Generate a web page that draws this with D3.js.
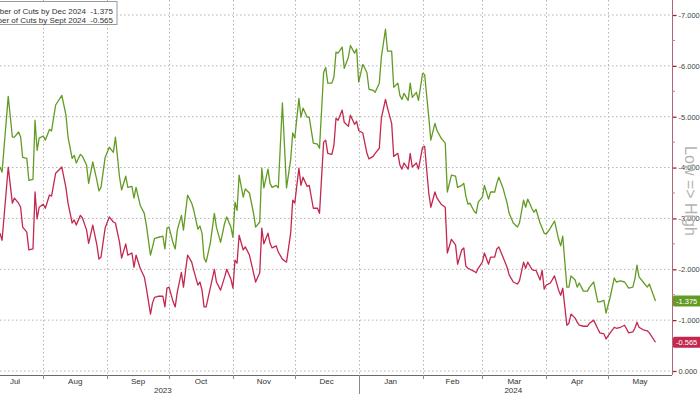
<!DOCTYPE html>
<html>
<head>
<meta charset="utf-8">
<title>Number of cuts priced</title>
<script src="https://cdnjs.cloudflare.com/ajax/libs/d3/7.8.5/d3.min.js"></script>
<style>
  body { margin: 0; background: #fff; }
  svg { display: block; font-family: "Liberation Sans", Arial, sans-serif; }
</style>
</head>
<body>
<svg id="chart" width="700" height="394"></svg>
<script>
// observation dates (both series share them)
var dates = [
  "2023-07-11","2023-07-12","2023-07-15","2023-07-17","2023-07-18","2023-07-20","2023-07-21","2023-07-22","2023-07-24","2023-07-25",
  "2023-07-27","2023-07-28","2023-07-29","2023-07-30","2023-08-01","2023-08-02","2023-08-04","2023-08-05","2023-08-07","2023-08-10",
  "2023-08-12","2023-08-13","2023-08-15","2023-08-16","2023-08-17","2023-08-19","2023-08-20","2023-08-22","2023-08-23","2023-08-25",
  "2023-08-27","2023-08-28","2023-08-29","2023-08-31","2023-09-02","2023-09-04","2023-09-05","2023-09-07","2023-09-08","2023-09-10",
  "2023-09-11","2023-09-13","2023-09-14","2023-09-15","2023-09-17","2023-09-19","2023-09-20","2023-09-22","2023-09-23","2023-09-24",
  "2023-09-26","2023-09-28","2023-09-29","2023-09-30","2023-10-01","2023-10-03","2023-10-04","2023-10-05","2023-10-07","2023-10-08",
  "2023-10-10","2023-10-12","2023-10-13","2023-10-15","2023-10-16","2023-10-17","2023-10-18","2023-10-19","2023-10-21","2023-10-23",
  "2023-10-24","2023-10-26","2023-10-28","2023-10-29","2023-10-31","2023-11-01","2023-11-02","2023-11-03","2023-11-04","2023-11-06",
  "2023-11-07","2023-11-09","2023-11-11","2023-11-12","2023-11-14","2023-11-15","2023-11-16","2023-11-18","2023-11-19","2023-11-20",
  "2023-11-22","2023-11-23","2023-11-25","2023-11-27","2023-11-29","2023-11-30","2023-12-01","2023-12-03","2023-12-04","2023-12-05",
  "2023-12-07","2023-12-08","2023-12-10","2023-12-12","2023-12-13","2023-12-15","2023-12-16","2023-12-17","2023-12-19","2023-12-20",
  "2023-12-21","2023-12-22","2023-12-24","2023-12-25","2023-12-27","2023-12-28","2023-12-30","2023-12-31","2024-01-01","2024-01-03",
  "2024-01-05","2024-01-06","2024-01-08","2024-01-09","2024-01-11","2024-01-12","2024-01-14","2024-01-15","2024-01-17","2024-01-18",
  "2024-01-20","2024-01-21","2024-01-22","2024-01-23","2024-01-25","2024-01-26","2024-01-27","2024-01-29","2024-01-30","2024-02-01",
  "2024-02-02","2024-02-04","2024-02-05","2024-02-07","2024-02-08","2024-02-10","2024-02-12","2024-02-13","2024-02-15","2024-02-17",
  "2024-02-18","2024-02-20","2024-02-21","2024-02-22","2024-02-23","2024-02-24","2024-02-26","2024-02-27","2024-02-28","2024-03-01",
  "2024-03-02","2024-03-04","2024-03-05","2024-03-07","2024-03-08","2024-03-09","2024-03-11","2024-03-13","2024-03-14","2024-03-16",
  "2024-03-18","2024-03-19","2024-03-21","2024-03-22","2024-03-23","2024-03-25","2024-03-26","2024-03-27","2024-03-29","2024-03-30",
  "2024-03-31","2024-04-01","2024-04-03","2024-04-05","2024-04-07","2024-04-08","2024-04-09","2024-04-11","2024-04-12","2024-04-13",
  "2024-04-15","2024-04-16","2024-04-17","2024-04-19","2024-04-21","2024-04-22","2024-04-24","2024-04-26","2024-04-27","2024-04-29",
  "2024-04-30","2024-05-02","2024-05-04","2024-05-05","2024-05-07","2024-05-09","2024-05-11","2024-05-13","2024-05-14","2024-05-15",
  "2024-05-16","2024-05-18","2024-05-20","2024-05-21","2024-05-24"
];

// Number of Cuts by Dec 2024
var cutsDec2024 = [
  -4.01,-3.91,-5.40,-4.60,-4.60,-4.70,-4.60,-4.20,-4.18,-3.75,
  -3.77,-4.93,-4.34,-4.58,-4.62,-4.54,-4.75,-4.72,-5.23,-5.42,
  -5.03,-4.60,-4.18,-4.24,-4.09,-4.26,-4.22,-4.05,-3.69,-4.11,
  -3.75,-3.54,-3.61,-4.20,-4.40,-4.30,-4.60,-3.81,-3.56,-3.83,
  -3.61,-3.63,-3.40,-3.61,-3.26,-3.10,-2.87,-2.28,-2.44,-2.61,
  -2.63,-2.65,-2.40,-2.81,-2.83,-2.51,-2.40,-2.77,-3.06,-2.77,
  -3.46,-3.30,-3.16,-2.79,-2.85,-2.71,-2.22,-2.14,-2.51,-3.10,
  -2.83,-2.53,-2.91,-3.03,-2.83,-2.63,-3.32,-3.16,-3.85,-3.42,
  -3.58,-3.50,-3.10,-2.83,-2.93,-3.99,-3.60,-3.97,-3.69,-3.61,
  -3.65,-3.60,-5.27,-3.60,-4.15,-4.68,-4.58,-5.36,-4.99,-5.17,
  -4.99,-4.99,-4.48,-4.46,-4.38,-5.87,-5.97,-5.66,-5.66,-5.78,
  -6.27,-6.25,-6.37,-5.95,-6.17,-6.40,-6.25,-6.33,-5.68,-6.03,
  -5.87,-5.54,-5.52,-5.48,-5.66,-6.17,-6.72,-6.29,-6.29,-5.58,
  -5.66,-5.42,-5.34,-5.46,-5.32,-5.66,-5.38,-5.48,-5.32,-5.85,
  -5.83,-4.99,-4.54,-4.87,-4.73,-4.58,-4.48,-3.52,-3.85,-3.83,
  -3.61,-3.65,-3.69,-3.44,-3.28,-3.30,-3.14,-3.10,-3.32,-3.42,
  -3.65,-3.38,-3.52,-3.52,-3.69,-3.81,-3.60,-3.30,-3.10,-2.91,
  -2.83,-2.91,-3.36,-3.22,-3.38,-3.20,-3.12,-3.18,-2.91,-2.81,
  -2.71,-2.69,-2.81,-2.95,-2.59,-2.46,-2.65,-1.65,-1.65,-1.87,
  -1.79,-1.65,-1.73,-1.57,-1.57,-1.65,-1.75,-1.36,-1.36,-1.39,
  -1.14,-1.45,-1.83,-1.75,-1.77,-1.75,-1.63,-1.65,-1.81,-2.08,
  -1.85,-1.75,-1.65,-1.71,-1.375
];

// Number of Cuts by Sept 2024
var cutsSep2024 = [
  -2.71,-2.57,-4.01,-3.30,-3.40,-3.30,-3.22,-2.83,-2.73,-2.38,
  -2.40,-3.52,-2.99,-3.22,-3.28,-3.20,-3.46,-3.44,-3.89,-4.01,
  -3.60,-3.30,-2.91,-2.97,-2.87,-3.06,-3.01,-2.77,-2.51,-2.87,
  -2.48,-2.20,-2.24,-2.81,-3.03,-2.93,-2.91,-2.53,-2.22,-2.50,
  -2.28,-2.32,-2.04,-2.28,-2.02,-1.85,-1.63,-1.12,-1.34,-1.45,
  -1.47,-1.47,-1.26,-1.63,-1.65,-1.36,-1.26,-1.55,-1.94,-1.65,
  -2.28,-2.14,-1.98,-1.69,-1.75,-1.59,-1.26,-1.26,-1.63,-2.00,
  -1.75,-1.59,-1.85,-2.00,-1.81,-1.63,-2.18,-2.12,-2.67,-2.38,
  -2.44,-2.28,-1.93,-1.75,-1.93,-2.81,-2.50,-2.71,-2.51,-2.42,
  -2.46,-2.34,-2.20,-2.14,-2.71,-3.36,-3.30,-3.99,-3.65,-3.81,
  -3.63,-3.65,-3.20,-3.20,-3.10,-4.50,-4.54,-4.28,-4.26,-4.44,
  -4.97,-4.93,-5.13,-4.89,-4.81,-5.03,-4.85,-4.91,-4.73,-4.68,
  -4.28,-4.17,-4.22,-4.28,-4.38,-4.97,-5.34,-5.17,-4.87,-4.22,
  -4.28,-4.05,-3.97,-4.09,-3.97,-4.28,-4.01,-4.09,-3.97,-4.40,
  -4.42,-3.50,-3.22,-3.52,-3.40,-3.28,-3.22,-2.32,-2.59,-2.48,
  -2.10,-2.38,-2.42,-2.06,-2.02,-2.00,-1.96,-1.93,-2.02,-2.14,
  -2.32,-2.10,-2.24,-2.24,-2.40,-2.44,-2.24,-2.04,-1.89,-1.75,
  -1.71,-1.77,-2.14,-2.02,-2.14,-2.00,-1.98,-1.98,-1.79,-1.98,
  -1.61,-1.69,-1.73,-1.87,-1.59,-1.49,-1.63,-0.90,-0.94,-1.12,
  -1.04,-0.96,-0.90,-0.88,-0.88,-0.94,-1.00,-0.83,-0.75,-0.73,
  -0.63,-0.75,-0.86,-0.84,-0.86,-0.90,-0.75,-0.77,-0.84,-0.96,
  -0.86,-0.81,-0.79,-0.75,-0.565
];

var seriesNames = ["Number of Cuts by Dec 2024", "Number of Cuts by Sept 2024"];
var yTicks = [0, -1, -2, -3, -4, -5, -6, -7];
var monthLabels = ["Jul", "Aug", "Sep", "Oct", "Nov", "Dec", "Jan", "Feb", "Mar", "Apr", "May"];
var yearLabels = [["2023", "2023-09-28"], ["2024", "2024-03-16"]];

var green = "#639b25", red = "#c3284f";
var parse = d3.timeParse("%Y-%m-%d");
var svg = d3.select("#chart");

var plotRight = 672, plotBottom = 375;

var x = d3.scaleTime()
    .domain([new Date(2023, 6, 11), new Date(2024, 5, 1)])
    .range([0, plotRight]);

var y = d3.scaleLinear()
    .domain([0, -7])
    .range([371, 15]);

var fmt = function (d) { return d === 0 ? "0.000" : "-" + Math.abs(d).toFixed(3); };

var months = d3.timeMonth.range(new Date(2023, 7, 1), new Date(2024, 5, 1));

// dotted grid
svg.append("g").selectAll("line")
    .data(yTicks).enter().append("line")
    .attr("x1", 0).attr("x2", plotRight)
    .attr("y1", d => y(d)).attr("y2", d => y(d))
    .attr("stroke", "#b4b4b4").attr("stroke-width", 1)
    .attr("stroke-dasharray", "1.5,2.5");

svg.append("g").selectAll("line")
    .data(months).enter().append("line")
    .attr("x1", d => Math.round(x(d)) + 0.5).attr("x2", d => Math.round(x(d)) + 0.5)
    .attr("y1", 0).attr("y2", plotBottom)
    .attr("stroke", "#b4b4b4").attr("stroke-width", 1)
    .attr("stroke-dasharray", "1.5,2.5");

// bottom axis
svg.append("line")
    .attr("x1", 0).attr("x2", plotRight)
    .attr("y1", plotBottom + 0.5).attr("y2", plotBottom + 0.5)
    .attr("stroke", "#6a6a6a");

svg.append("g").selectAll("line")
    .data(months).enter().append("line")
    .attr("x1", d => Math.round(x(d)) + 0.5).attr("x2", d => Math.round(x(d)) + 0.5)
    .attr("y1", plotBottom)
    .attr("y2", d => d.getMonth() === 0 ? 394 : plotBottom + 4)
    .attr("stroke", "#8a8a8a");

var monthStarts = [new Date(2023, 6, 1)].concat(months);
svg.append("g").selectAll("text")
    .data(monthLabels).enter().append("text")
    .attr("x", (d, i) => {
      var a = monthStarts[i], b = d3.timeMonth.offset(a, 1);
      var mid = (x(a) + x(b)) / 2;
      return i === 0 ? 15 : mid;
    })
    .attr("y", 384)
    .attr("text-anchor", "middle")
    .attr("font-size", 8).attr("fill", "#333")
    .text(d => d);

svg.append("g").selectAll("text")
    .data(yearLabels).enter().append("text")
    .attr("x", d => x(parse(d[1])))
    .attr("y", 393)
    .attr("text-anchor", "middle")
    .attr("font-size", 8).attr("fill", "#333")
    .text(d => d[0]);

// right axis
var yAxis = d3.axisRight(y)
    .tickValues(yTicks)
    .tickFormat(fmt)
    .tickSize(4)
    .tickPadding(2);

var ax = svg.append("g")
    .attr("transform", "translate(" + (plotRight + 0.5) + ",0)")
    .call(yAxis);
ax.select(".domain").remove();
ax.selectAll(".tick line").attr("stroke", "#8b2a3e").attr("stroke-width", 1.3);
ax.selectAll(".tick text")
    .attr("font-family", "Liberation Sans, Arial, sans-serif")
    .attr("font-size", 7.5).attr("fill", "#444");

svg.append("line")
    .attr("x1", plotRight + 0.5).attr("x2", plotRight + 0.5)
    .attr("y1", 0).attr("y2", plotBottom)
    .attr("stroke", "#b56478").attr("stroke-width", 1);

svg.append("g").selectAll("line")
    .data(d3.range(-0.5, -7, -1)).enter().append("line")
    .attr("x1", plotRight).attr("x2", plotRight + 3)
    .attr("y1", d => y(d)).attr("y2", d => y(d))
    .attr("stroke", "#b58090");

svg.append("text")
    .attr("transform", "translate(685,191) rotate(90)")
    .attr("text-anchor", "middle")
    .attr("font-size", 16).attr("fill", "#b4b4b4")
    .text("Low => High");

// lines
var line = d3.line()
    .x((d, i) => x(parse(dates[i])))
    .y(d => y(d));

[[cutsDec2024, green], [cutsSep2024, red]].forEach(function (s) {
  svg.append("path")
      .datum(s[0])
      .attr("fill", "none")
      .attr("stroke", s[1])
      .attr("stroke-width", 1.3)
      .attr("stroke-linejoin", "round")
      .attr("d", line);
});

// end labels
[[cutsDec2024, green], [cutsSep2024, red]].forEach(function (s) {
  var v = s[0][s[0].length - 1];
  var g = svg.append("g").attr("transform", "translate(673," + y(v) + ")");
  g.append("rect").attr("x", 0).attr("y", -5.5).attr("width", 30).attr("height", 11)
      .attr("rx", 1.5).attr("fill", s[1]);
  g.append("text").attr("x", 3).attr("y", 3)
      .attr("font-size", 7.5).attr("fill", "#fff")
      .text(v.toFixed(3));
});

// legend (left part runs off the picture, as in the original)
var leg = svg.append("g");
leg.append("rect")
    .attr("x", -5).attr("y", 1.5).attr("width", 122).attr("height", 23)
    .attr("fill", "#fff").attr("stroke", "#9a9a9a");
[cutsDec2024, cutsSep2024].forEach(function (s, i) {
  leg.append("text")
      .attr("x", 86).attr("y", 13.5 + i * 9)
      .attr("text-anchor", "end")
      .attr("font-size", 8).attr("fill", "#333")
      .text(seriesNames[i]);
  leg.append("text")
      .attr("x", 113).attr("y", 13.5 + i * 9)
      .attr("text-anchor", "end")
      .attr("font-size", 8).attr("fill", "#333")
      .text(s[s.length - 1].toFixed(3));
});
</script>
</body>
</html>
